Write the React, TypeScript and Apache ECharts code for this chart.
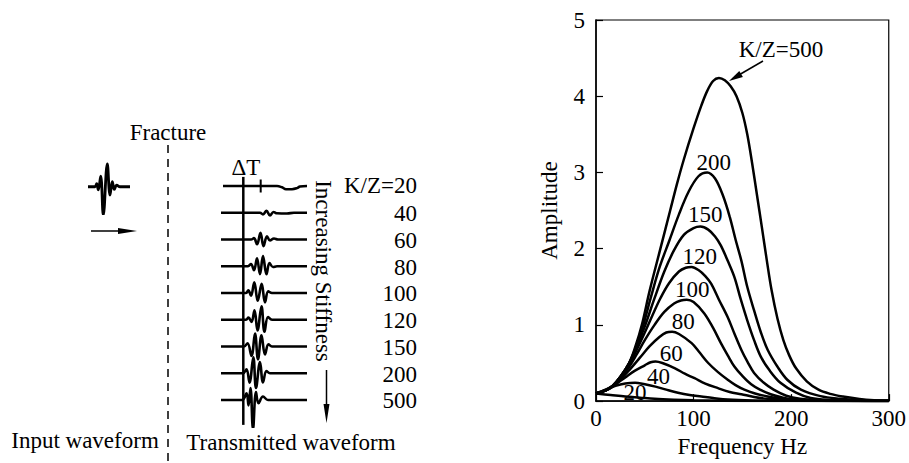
import React, { useEffect, useRef } from "react";
import * as echarts from "echarts";

// ---------- Right panel: amplitude spectra (frequency Hz, amplitude) ----------
const FREQ_TICKS = [0, 100, 200, 300];
const AMP_TICKS = [0, 1, 2, 3, 4, 5];

const SPEC_20: [number, number][] = [[0,0.1],[15,0.08],[30,0.06],[45,0.045],[60,0.03],[80,0.018],[100,0.01],[130,0.004],[170,0.001],[300,0]];
const SPEC_40: [number, number][] = [[0,0.1],[10,0.15],[20,0.2],[30,0.23],[40,0.24],[50,0.22],[61,0.19],[72,0.15],[84,0.11],[96,0.08],[108,0.06],[120,0.04],[135,0.02],[160,0.008],[200,0.003],[300,0]];
const SPEC_60: [number, number][] = [[0,0.1],[10,0.15],[20,0.22],[30,0.31],[40,0.4],[50,0.47],[56,0.51],[61,0.52],[68,0.5],[81,0.43],[91,0.36],[101,0.3],[112,0.23],[125,0.17],[137,0.12],[149,0.09],[162,0.055],[176,0.03],[200,0.012],[300,0.001]];
const SPEC_80: [number, number][] = [[0,0.1],[10,0.14],[17,0.19],[25,0.28],[35,0.42],[45,0.57],[55,0.72],[65,0.84],[72,0.9],[78,0.91],[85,0.88],[98,0.76],[106,0.64],[115,0.5],[125,0.38],[135,0.28],[143,0.21],[152,0.15],[163,0.1],[176,0.06],[195,0.025],[220,0.01],[300,0.001]];
const SPEC_100: [number, number][] = [[0,0.1],[10,0.14],[17,0.2],[25,0.3],[34,0.45],[42,0.62],[50,0.8],[60,1.0],[70,1.17],[80,1.28],[87,1.32],[93,1.33],[100,1.3],[111,1.15],[120,0.96],[128,0.76],[135,0.6],[142,0.45],[150,0.33],[159,0.22],[168,0.15],[179,0.09],[190,0.05],[203,0.02],[230,0.006],[300,0.001]];
const SPEC_120: [number, number][] = [[0,0.1],[10,0.14],[17,0.2],[25,0.31],[34,0.48],[42,0.68],[50,0.9],[58,1.13],[66,1.35],[75,1.55],[85,1.7],[92,1.75],[98,1.76],[105,1.72],[112,1.64],[118,1.54],[126,1.33],[135,1.1],[142,0.88],[149,0.67],[155,0.52],[162,0.37],[172,0.24],[182,0.15],[195,0.07],[209,0.03],[230,0.01],[260,0.003],[300,0.001]];
const SPEC_150: [number, number][] = [[0,0.1],[10,0.14],[17,0.2],[25,0.32],[34,0.5],[42,0.72],[50,0.98],[60,1.35],[70,1.7],[80,1.98],[90,2.18],[100,2.27],[107,2.29],[115,2.25],[122,2.16],[128,2.04],[135,1.84],[142,1.62],[148,1.35],[155,1.06],[162,0.8],[169,0.58],[178,0.4],[189,0.24],[205,0.11],[220,0.04],[240,0.015],[270,0.005],[300,0.002]];
const SPEC_200: [number, number][] = [[0,0.1],[10,0.14],[17,0.2],[25,0.32],[34,0.5],[40,0.68],[48,0.98],[56,1.35],[65,1.75],[75,2.1],[85,2.45],[95,2.75],[105,2.95],[114,3.0],[122,2.92],[130,2.7],[137,2.42],[143,2.12],[149,1.84],[155,1.5],[162,1.19],[169,0.9],[176,0.67],[186,0.45],[196,0.28],[210,0.15],[230,0.065],[250,0.03],[270,0.012],[300,0.003]];
const SPEC_500: [number, number][] = [[0,0.1],[10,0.14],[17,0.2],[25,0.32],[34,0.5],[40,0.7],[47,1.0],[55,1.45],[66,2.0],[76,2.5],[83,2.85],[90,3.17],[100,3.58],[108,3.88],[114,4.07],[120,4.2],[126,4.24],[132,4.21],[138,4.13],[144,4.0],[150,3.78],[155,3.5],[160,3.12],[165,2.7],[170,2.28],[175,1.85],[180,1.45],[186,1.08],[192,0.8],[198,0.6],[205,0.43],[216,0.26],[228,0.15],[240,0.095],[253,0.06],[270,0.028],[285,0.012],[300,0.005]];

const SPECTRA = [SPEC_20, SPEC_40, SPEC_60, SPEC_80, SPEC_100, SPEC_120, SPEC_150, SPEC_200, SPEC_500];
const SPEC_LABELS = ["20", "40", "60", "80", "100", "120", "150", "200", "K/Z=500"];
// label anchor points, in data units (Hz, amplitude)
const SPEC_LABEL_AT: [number, number][] = [[40, 0.115], [64, 0.325], [77, 0.63], [89.5, 1.04], [98.6, 1.47], [106.4, 1.9], [112, 2.45], [120.6, 3.13], [189.5, 4.61]];

// ---------- Left panel: waveforms (time, relative amplitude) ----------
const K_Z = ["K/Z=20", "40", "60", "80", "100", "120", "150", "200", "500"];
const INPUT_WAVE: [number, number][] = [[0,0],[7,0],[8.7,0.12],[10.3,-0.12],[12.7,0.4],[15.3,-1.06],[19.3,0.85],[22,-0.31],[24.3,0.19],[26.3,-0.1],[28.7,0.06],[32,0],[42,0]];
const TRACE_20: [number, number][] = [[1,0],[55,0],[60,-0.05],[64,-0.12],[70,-0.12],[75,-0.08],[78,-0.02],[85,0]];
const TRACE_40: [number, number][] = [[-1,0],[38,0],[41,-0.06],[44.5,0.07],[48,-0.1],[51.5,0.03],[55,-0.02],[65,-0.03],[72,0],[85,0]];
const TRACE_60: [number, number][] = [[-1,0],[29,0],[32,0.05],[35,-0.18],[38.5,0.25],[41.5,-0.25],[45,0.12],[48,-0.04],[52,0.04],[56,0],[85,0]];
const TRACE_80: [number, number][] = [[-1,0],[26,0],[29,0.08],[32,-0.15],[35,0.3],[38,-0.3],[41,0.38],[44.5,-0.3],[47.5,0.12],[51,-0.03],[55,0],[85,0]];
const TRACE_100: [number, number][] = [[-1,0],[24,0],[26.3,0.1],[29,-0.1],[32.3,0.4],[35.7,-0.29],[39.7,0.34],[43,-0.35],[46.3,0.06],[50,0],[85,0]];
const TRACE_120: [number, number][] = [[-1,0],[24,0],[26.5,0.08],[29.5,-0.08],[32.5,0.35],[35.5,-0.4],[39.5,0.5],[42.5,-0.45],[46,0.1],[50,0],[85,0]];
const TRACE_150: [number, number][] = [[-1,0],[22,0],[25.5,0.12],[29.5,-0.35],[33,0.48],[36,-0.48],[39.5,0.42],[43,-0.3],[46.5,0.08],[50,0],[85,0]];
const TRACE_200: [number, number][] = [[-1,0],[21,0],[24.5,0.15],[27.5,-0.35],[31.3,0.6],[34,-0.55],[38,0.42],[41,-0.34],[44.5,0.08],[48,0],[85,0]];
const TRACE_500: [number, number][] = [[-1,0],[20,0],[24.5,0.25],[26.5,-0.2],[28.5,0.45],[31,-1.08],[34,0.3],[36.5,-0.12],[41,0.13],[46,0],[85,0]];
const TRACES = [TRACE_20, TRACE_40, TRACE_60, TRACE_80, TRACE_100, TRACE_120, TRACE_150, TRACE_200, TRACE_500];
const DELTA_T_MARK: [number, number][] = [[38.7, 0.24], [38.7, -0.24]];
const REFERENCE_LINE: [number, number][] = [[21.3, 0.34], [21.3, -8.93]];

const FONT = '"Liberation Serif", "Times New Roman", Times, "DejaVu Serif", serif';
const FS = 23;

export default function App() {
  const ref = useRef<HTMLDivElement>(null);
  useEffect(() => {
    const chart = echarts.init(ref.current!, null, { renderer: "svg" });
    const black = "#000";
    const lineSeries = (data: [number, number][], xi: number, smooth: number | boolean, width = 2.5) => ({
      type: "line",
      data,
      xAxisIndex: xi,
      yAxisIndex: xi,
      symbol: "none",
      smooth,
      silent: true,
      lineStyle: { color: black, width },
    });
    const series: any[] = [];
    SPECTRA.forEach((d) => series.push(lineSeries(d, 0, 0.35)));
    series.push(lineSeries(INPUT_WAVE, 1, 0.4, 2.8));
    TRACES.forEach((d, i) => series.push(lineSeries(d.map(([t, a]) => [t, a - i] as [number, number]), 2, 0.4, 2.6)));
    series.push(lineSeries(DELTA_T_MARK, 2, false, 2));
    series.push(lineSeries(REFERENCE_LINE, 2, false, 2.5));

    chart.setOption({
      animation: false,
      textStyle: { fontFamily: FONT },
      grid: [
        { left: 596, top: 20, width: 296, height: 385, show: true, borderColor: black, borderWidth: 1.2, backgroundColor: "transparent" },
        { left: 88, top: 160, width: 42, height: 53.5 },
        { left: 221, top: 159.25, width: 86, height: 267.5 },
      ],
      xAxis: [
        {
          type: "value", gridIndex: 0, min: 0, max: 300, interval: 100,
          name: "Frequency Hz", nameLocation: "middle", nameGap: 33,
          nameTextStyle: { fontFamily: FONT, fontSize: FS, color: black },
          axisLine: { show: true, lineStyle: { color: black, width: 1.5 } },
          axisTick: { show: true, inside: true, length: 7, lineStyle: { color: black, width: 1.2 } },
          axisLabel: { fontFamily: FONT, fontSize: FS, color: black, margin: 6, formatter: (v: number) => (FREQ_TICKS.includes(v) ? String(v) : "") },
          splitLine: { show: false },
        },
        { type: "value", gridIndex: 1, min: 0, max: 42, show: false },
        { type: "value", gridIndex: 2, min: -1, max: 85, show: false },
      ],
      yAxis: [
        {
          type: "value", gridIndex: 0, min: 0, max: 5, interval: 1,
          name: "Amplitude", nameLocation: "middle", nameGap: 35,
          nameTextStyle: { fontFamily: FONT, fontSize: FS, color: black },
          axisLine: { show: true, lineStyle: { color: black, width: 1.5 } },
          axisTick: { show: true, inside: true, length: 7, lineStyle: { color: black, width: 1.2 } },
          axisLabel: { fontFamily: FONT, fontSize: FS, color: black, margin: 11, formatter: (v: number) => (AMP_TICKS.includes(v) ? String(v) : "") },
          splitLine: { show: false },
        },
        { type: "value", gridIndex: 1, min: -1, max: 1, show: false },
        { type: "value", gridIndex: 2, min: -9, max: 1, show: false },
      ],
      series,
    });

    const txt = (text: string, x: number, y: number, align = "center", extra: any = {}) => ({
      type: "text", x, y, silent: true, ...extra,
      style: { text, fill: black, fontFamily: FONT, fontSize: FS, textAlign: align, textVerticalAlign: "middle" },
    });

    const elements: any[] = [];
    SPEC_LABELS.forEach((lab, i) => {
      const p = chart.convertToPixel({ gridIndex: 0 }, SPEC_LABEL_AT[i]) as number[];
      elements.push(txt(lab, p[0], p[1]));
    });
    // arrow to K/Z=500 peak
    elements.push({ type: "line", silent: true, shape: { x1: 763, y1: 61, x2: 738, y2: 75.5 }, style: { stroke: black, lineWidth: 1.5 } });
    elements.push({ type: "polygon", silent: true, shape: { points: [[729, 81], [742.9, 76.9], [739.3, 70.9]] }, style: { fill: black } });

    // left panel annotations
    elements.push(txt("Fracture", 168, 132));
    elements.push({ type: "line", silent: true, shape: { x1: 168, y1: 145, x2: 168, y2: 463 }, style: { stroke: black, lineWidth: 1.5, lineDash: [8, 6] } });
    elements.push({ type: "line", silent: true, shape: { x1: 91, y1: 231, x2: 124, y2: 231 }, style: { stroke: black, lineWidth: 1.5 } });
    elements.push({ type: "polygon", silent: true, shape: { points: [[137, 231], [118, 228], [118, 234]] }, style: { fill: black } });
    elements.push(txt("Input waveform", 85, 440));
    elements.push(txt("Transmitted waveform", 291, 442));
    elements.push(txt("ΔT", 246, 167));
    const baseY = [185, 213, 240, 267, 293, 320, 347, 374, 400];
    K_Z.forEach((k, i) => elements.push(txt(k, 417, baseY[i], "right")));
    elements.push({
      type: "text", x: 323, y: 271, rotation: -Math.PI / 2, silent: true,
      style: { text: "Increasing Stiffness", fill: black, fontFamily: FONT, fontSize: FS, textAlign: "center", textVerticalAlign: "middle" },
    });
    elements.push({ type: "line", silent: true, shape: { x1: 326.5, y1: 370, x2: 326.5, y2: 408 }, style: { stroke: black, lineWidth: 1.5 } });
    elements.push({ type: "polygon", silent: true, shape: { points: [[326.5, 423], [323.5, 404], [329.5, 404]] }, style: { fill: black } });

    chart.setOption({ graphic: { elements } });
    return () => chart.dispose();
  }, []);
  return <div ref={ref} style={{ position: "absolute", left: 0, top: 0, width: 909, height: 463, background: "#fff" }} />;
}
